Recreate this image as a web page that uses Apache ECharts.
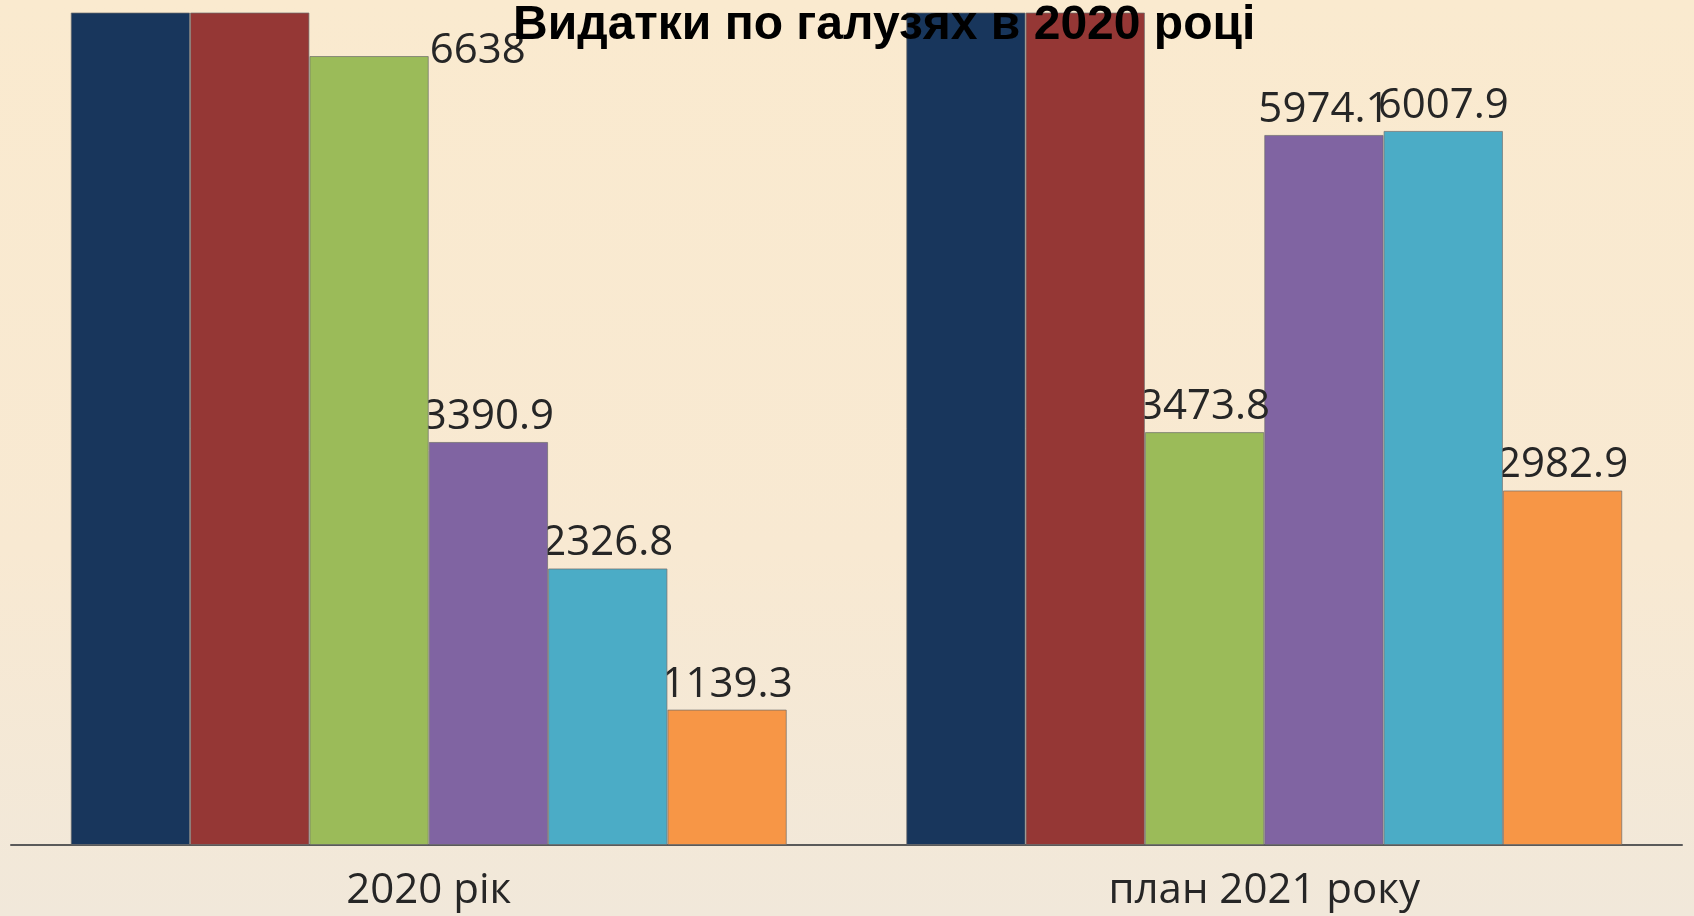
<!DOCTYPE html>
<html>
<head>
<meta charset="utf-8">
<script src="https://cdn.jsdelivr.net/npm/echarts@6/dist/echarts.min.js"></script>
<style>
html,body{margin:0;padding:0;width:1694px;height:916px;overflow:hidden;}
body{background:linear-gradient(to bottom,#FAEACF 0%,#F8E9D2 60%,#F1E8DA 100%);}
#chart{width:1694px;height:916px;}
</style>
</head>
<body>
<div id="chart"></div>
<script>
const titleText = 'Видатки по галузях в 2020 році';
const categories = ['2020 рік', 'план 2021 року'];
// first two series exceed the axis maximum and are clipped in the reference (values estimated)
const seriesNames = ['Освіта', 'Охорона здоров\'я', 'Соціальний захист', 'Культура', 'Фізична культура', 'Інші видатки'];
const series1 = [25400, 27600];
const series2 = [9800, 10900];
const series3 = [6638, 3473.8];
const series4 = [3390.9, 5974.1];
const series5 = [2326.8, 6007.9];
const series6 = [1139.3, 2982.9];
const showLabel = [false, false, true, true, true, true];
const colors = ['#18365C', '#953735', '#9BBB59', '#8064A2', '#4BACC6', '#F79646'];
const yMax = 7000;

const allValues = [series1, series2, series3, series4, series5, series6];

// label beside the bar when it would collide with the top of the plot
function dataItems(vals, i) {
  return vals.map((v, j) => {
    if (i === 2 && j === 0) {
      return {value: v, label: {position: ['100%', 0], offset: [1, -5], align: 'left', verticalAlign: 'middle'}};
    }
    return v;
  });
}

const chart = echarts.init(document.getElementById('chart'), null, {renderer: 'canvas'});
chart.setOption({
  backgroundColor: 'transparent',
  animation: false,
  title: {
    text: titleText,
    left: 513,
    top: 2,
    padding: 0,
    z: 50,
    textStyle: {fontFamily: 'Liberation Sans', fontWeight: 'bold', fontSize: 48, color: '#000'}
  },
  grid: {left: 11, right: 12, top: 13, bottom: 71, containLabel: false},
  xAxis: {
    type: 'category',
    data: categories,
    axisLine: {lineStyle: {color: '#5a5a5a', width: 2}},
    axisTick: {show: false},
    axisLabel: {margin: 25, fontFamily: 'Open Sans', fontSize: 42, color: '#262626'}
  },
  yAxis: {type: 'value', min: 0, max: yMax, show: false, splitLine: {show: false}},
  series: allValues.map((vals, i) => ({
    name: seriesNames[i],
    type: 'bar',
    data: dataItems(vals, i),
    z: 20 - i,
    clip: true,
    barGap: '0%',
    barCategoryGap: '14.3%',
    itemStyle: {color: colors[i], borderColor: 'rgba(110,110,110,0.7)', borderWidth: 1},
    label: {
      show: showLabel[i],
      position: 'top',
      distance: 4,
      fontFamily: 'Open Sans',
      fontSize: 42,
      color: '#262626'
    }
  }))
});
</script>
</body>
</html>
